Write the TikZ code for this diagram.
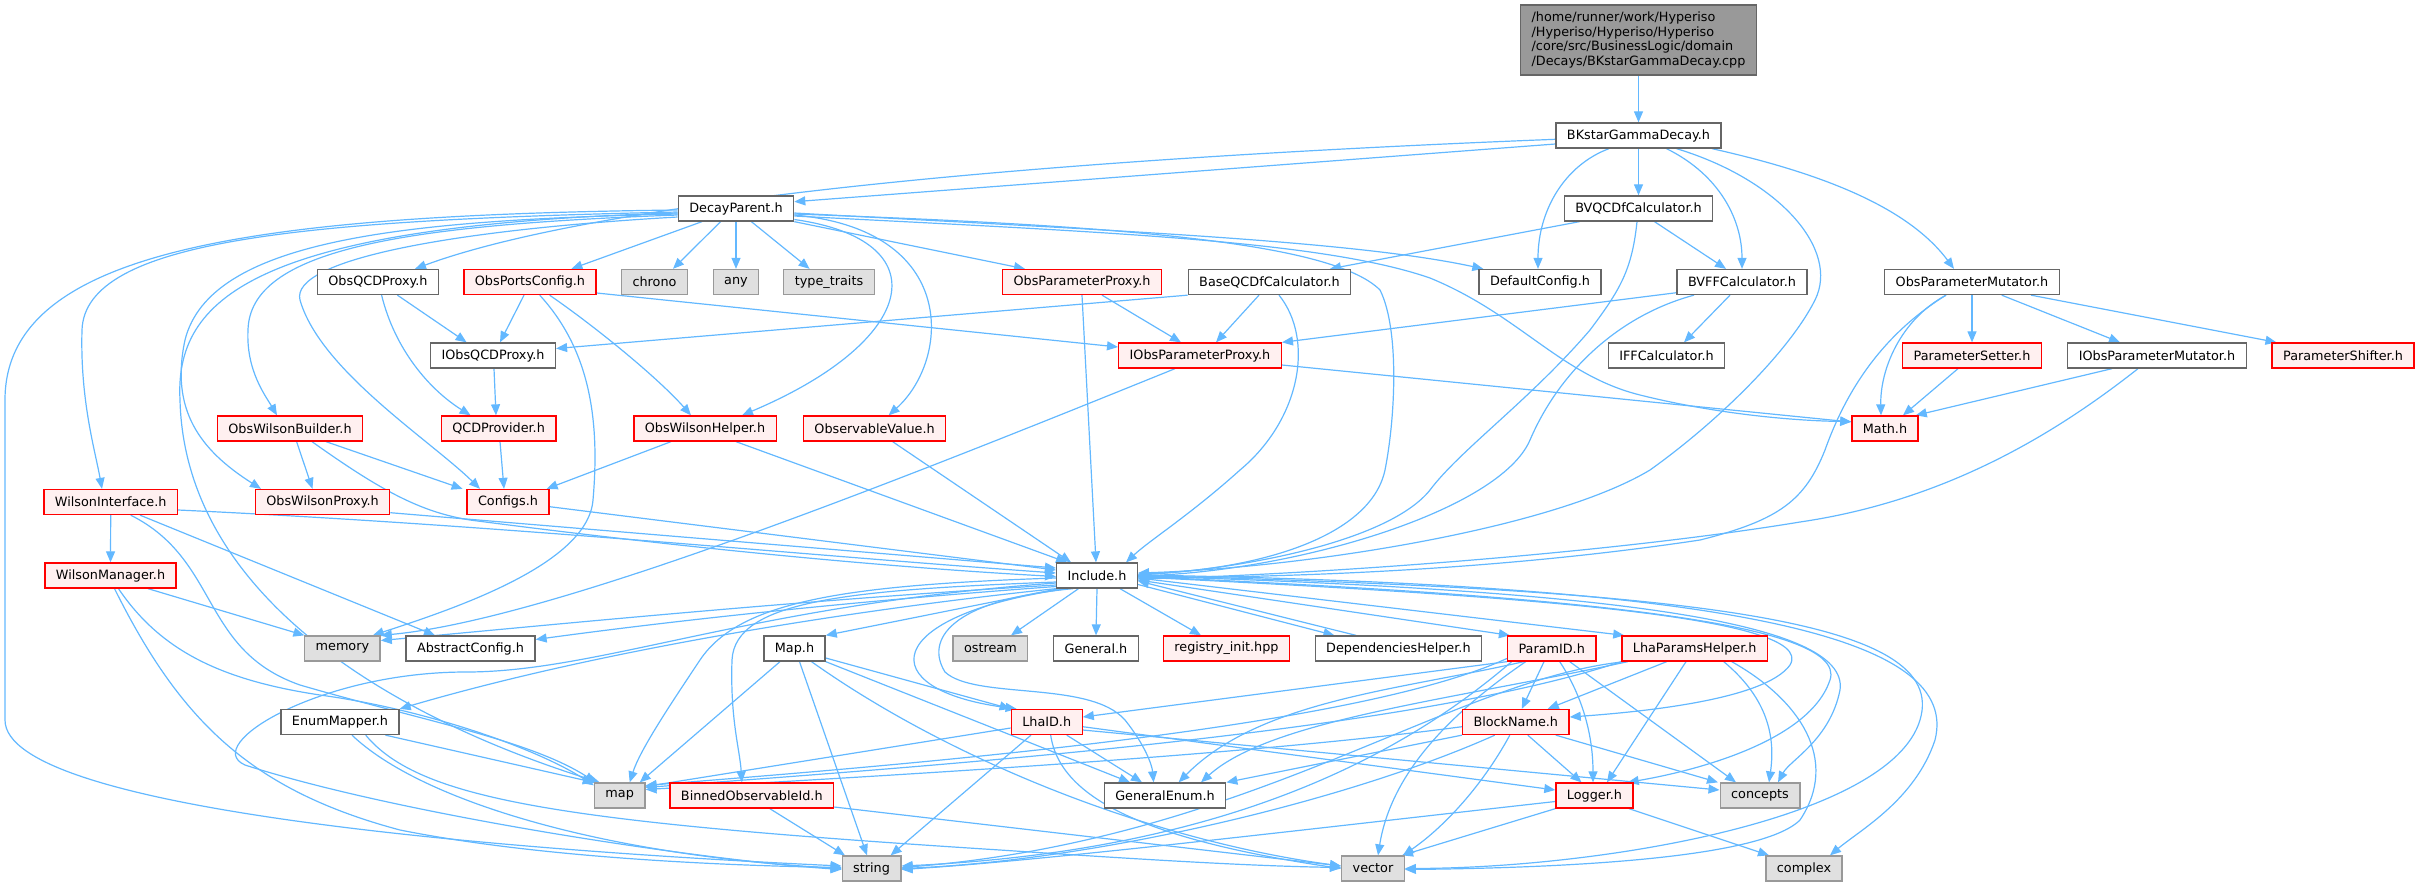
\documentclass[tikz,border=0pt]{standalone}
\usepackage{fontspec}
\setmainfont{DejaVu Sans}
\usetikzlibrary{arrows.meta}
\pgfdeclarelayer{bg}
\pgfsetlayers{bg,main}
\definecolor{edgec}{HTML}{63B8FF}
\definecolor{nbord}{HTML}{666666}
\definecolor{sbord}{HTML}{999999}
\definecolor{sfill}{HTML}{E0E0E0}
\definecolor{rfill}{HTML}{FFF0F0}
\definecolor{mfill}{HTML}{999999}
\begin{document}
\begin{tikzpicture}[x=1pt,y=-1pt,
  box/.style={draw, line width=1.3pt, minimum height=25pt, inner xsep=11pt, inner ysep=0pt,
    font=\fontsize{12.8}{14.8}\selectfont, anchor=center},
  nb/.style={box, draw=nbord, fill=white},
  rb/.style={box, draw=red, fill=rfill},
  sb/.style={box, draw=sbord, fill=sfill},
  mb/.style={box, draw=nbord, fill=mfill, align=left, minimum height=70pt},
  e/.style={draw=edgec, line width=1.2pt, -{Triangle[length=11pt,width=9pt]}}]
\useasboundingbox (0,0) rectangle (2418,887);
\node[mb] (main) at (1638.5,40) {/home/runner/work/Hyperiso\\/Hyperiso/Hyperiso/Hyperiso\\/core/src/BusinessLogic/domain\\/Decays/BKstarGammaDecay.cpp};
\node[nb] (BK) at (1638.5,135.5) {BKstarGammaDecay.h};
\node[nb] (DP) at (736,208.5) {DecayParent.h};
\node[nb] (BVQ) at (1638.5,208.5) {BVQCDfCalculator.h};
\node[nb] (OQP) at (378,282) {ObsQCDProxy.h};
\node[rb] (OPC) at (530,282) {ObsPortsConfig.h};
\node[sb] (chrono) at (654.5,282) {chrono};
\node[sb] (anyh) at (736,282) {any};
\node[sb] (tt) at (829,282) {type\_traits};
\node[rb] (OPP) at (1082,282) {ObsParameterProxy.h};
\node[nb] (BQ) at (1269.5,282) {BaseQCDfCalculator.h};
\node[nb] (DC) at (1540,282) {DefaultConfig.h};
\node[nb] (BVFF) at (1742,282) {BVFFCalculator.h};
\node[nb] (OPM) at (1972,282) {ObsParameterMutator.h};
\node[nb] (IOQP) at (493,355.5) {IObsQCDProxy.h};
\node[rb] (IOPP) at (1200,355.5) {IObsParameterProxy.h};
\node[nb] (IFF) at (1666.5,355.5) {IFFCalculator.h};
\node[rb] (PSet) at (1972,355.5) {ParameterSetter.h};
\node[nb] (IOPM) at (2157,355.5) {IObsParameterMutator.h};
\node[rb] (PShift) at (2343,355.5) {ParameterShifter.h};
\node[rb] (OWB) at (290,428.5) {ObsWilsonBuilder.h};
\node[rb] (QCDP) at (498.6,428.5) {QCDProvider.h};
\node[rb] (OWH) at (705,428.5) {ObsWilsonHelper.h};
\node[rb] (OV) at (874.6,428.5) {ObservableValue.h};
\node[rb] (Math) at (1885,428.5) {Math.h};
\node[rb] (WI) at (110.7,502) {WilsonInterface.h};
\node[rb] (OWP) at (322.5,502) {ObsWilsonProxy.h};
\node[rb] (Cfg) at (508,502) {Configs.h};
\node[rb] (WM) at (110.5,575.5) {WilsonManager.h};
\node[nb] (Inc) at (1097,575.5) {Include.h};
\node[sb] (mem) at (342.4,648.5) {memory};
\node[nb] (AC) at (470.5,648.5) {AbstractConfig.h};
\node[nb] (MapH) at (794.5,648.5) {Map.h};
\node[sb] (ostr) at (990.4,648.5) {ostream};
\node[nb] (Gen) at (1096,648.5) {General.h};
\node[rb] (reg) at (1226.5,648.5) {registry\_init.hpp};
\node[nb] (Dep) at (1398.4,648.5) {DependenciesHelper.h};
\node[rb] (PID) at (1551.7,648.5) {ParamID.h};
\node[rb] (LPH) at (1694.7,648.5) {LhaParamsHelper.h};
\node[nb] (EM) at (340,722) {EnumMapper.h};
\node[rb] (LID) at (1046.7,722) {LhaID.h};
\node[rb] (BN) at (1515.8,722) {BlockName.h};
\node[sb] (mapn) at (619.7,795.5) {map};
\node[rb] (BOI) at (751.8,795.5) {BinnedObservableId.h};
\node[nb] (GE) at (1165,795.5) {GeneralEnum.h};
\node[rb] (Log) at (1594.5,795.5) {Logger.h};
\node[sb] (conc) at (1760,795.5) {concepts};
\node[sb] (str) at (871.6,868.5) {string};
\node[sb] (vec) at (1373,868.5) {vector};
\node[sb] (cplx) at (1804,868.5) {complex};
\begin{pgfonlayer}{bg}
\draw[e] (main.south) -- (BK.north);
% BK
\draw[e] ([yshift=-8.5pt]BK.west) -- ([yshift=6.8pt]DP.east);
\draw[e] ([yshift=-3.8pt]BK.west) .. controls (900,165) and (560,215) .. ([xshift=37pt]OQP.north);
\draw[e] ([xshift=-29.5pt]BK.south) .. controls (1565,165) and (1538,210) .. ([xshift=-2pt]DC.north);
\draw[e] (BK.south) -- (BVQ.north);
\draw[e] ([xshift=28pt]BK.south) .. controls (1720,175) and (1742,220) .. (BVFF.north);
\draw[e] ([xshift=38pt]BK.south) .. controls (1780,180) and (1840,250) .. (1815,300) .. controls (1790,350) and (1720,420) .. (1650,470) .. controls (1550,530) and (1300,568) .. ([yshift=2.5pt]Inc.east);
\draw[e] ([xshift=73.5pt]BK.south) .. controls (1830,175) and (1910,210) .. ([xshift=-18pt]OPM.north);
% DP
\draw[e] ([xshift=-15.4pt]DP.south) -- ([xshift=18.5pt]chrono.north);
\draw[e] (DP.south) -- (anyh.north);
\draw[e] ([xshift=15.4pt]DP.south) -- ([xshift=-19.4pt]tt.north);
\draw[e] (DP.south east) -- ([xshift=-57pt]OPP.north);
\draw[e] ([yshift=-11pt]DP.east) .. controls (940,240) and (920,340) .. ([xshift=37pt]OWH.north);
\draw[e] ([yshift=-6.5pt]DP.east) .. controls (960,230) and (950,360) .. ([xshift=14pt]OV.north);
\draw[e] ([xshift=-34pt]DP.south) -- ([xshift=41.4pt]OPC.north);
\draw[e] ([yshift=-4.5pt]DP.east) .. controls (1100,230) and (1350,240) .. ([xshift=5pt]DC.north west);
\draw[e] ([yshift=-5.5pt]DP.east) .. controls (1100,225) and (1330,240) .. (1380,290) .. controls (1400,330) and (1395,420) .. (1385,470) .. controls (1370,540) and (1250,570) .. ([yshift=1.5pt]Inc.east);
\draw[e] ([yshift=-7.5pt]DP.east) .. controls (1100,232) and (1320,240) .. (1430,278) .. controls (1520,315) and (1560,375) .. (1640,395) .. controls (1720,415) and (1800,421) .. ([yshift=7pt]Math.west);
\draw[e] ([yshift=-1.5pt]DP.west) .. controls (250,215) and (5,250) .. (5,400) -- (5,720) .. controls (5,810) and (500,850) .. ([yshift=2.5pt]str.west);
\draw[e] ([yshift=-3.5pt]DP.west) .. controls (300,220) and (85,240) .. (82,330) .. controls (80,400) and (95,450) .. ([xshift=-8.7pt]WI.north);
\draw[e] ([yshift=-4.5pt]DP.west) .. controls (250,225) and (175,300) .. (180,400) .. controls (185,600) and (400,720) .. ([xshift=-20pt]mapn.north);
\draw[e] ([yshift=-5.5pt]DP.west) .. controls (400,220) and (210,240) .. (185,340) .. controls (170,410) and (200,450) .. ([xshift=-61.5pt]OWP.north);
\draw[e] ([yshift=-6.5pt]DP.west) .. controls (400,225) and (250,250) .. (248,330) .. controls (246,370) and (265,395) .. ([xshift=-13pt]OWB.north);
\draw[e] ([yshift=-8.5pt]DP.west) .. controls (450,230) and (290,260) .. (300,300) .. controls (320,370) and (430,440) .. ([xshift=-28pt]Cfg.north);
% BVQ
\draw[e] ([xshift=-59pt]BVQ.south) -- ([xshift=60.5pt]BQ.north);
\draw[e] ([xshift=-1.5pt]BVQ.south) .. controls (1632,270) and (1620,290) .. (1590,330) .. controls (1530,400) and (1460,450) .. (1430,490) .. controls (1390,540) and (1250,568) .. ([yshift=0.5pt]Inc.east);
\draw[e] ([xshift=16pt]BVQ.south) -- ([xshift=-16pt]BVFF.north);
% BQ
\draw[e] ([xshift=-10.5pt]BQ.south) -- ([xshift=16pt]IOPP.north);
\draw[e] ([xshift=9.5pt]BQ.south) .. controls (1315,340) and (1300,420) .. (1240,470) .. controls (1190,515) and (1150,540) .. ([xshift=29pt]Inc.north);
\draw[e] (BQ.south west) -- ([yshift=7pt]IOQP.east);
% BVFF
\draw[e] ([yshift=-10.7pt]BVFF.west) -- (IOPP.north east);
\draw[e] ([xshift=-48pt]BVFF.south) .. controls (1620,315) and (1560,370) .. (1530,440) .. controls (1500,510) and (1300,570) .. ([yshift=-0.5pt]Inc.east);
\draw[e] ([xshift=-12pt]BVFF.south) -- ([xshift=17.5pt]IFF.north);
% OPM
\draw[e] (OPM.south) -- (PSet.north);
\draw[e] ([xshift=29.7pt]OPM.south) -- ([xshift=-37pt]IOPM.north);
\draw[e] ([xshift=59pt]OPM.south) -- ([xshift=-66.5pt]PShift.north);
\draw[e] ([xshift=-26pt]OPM.south) .. controls (1900,320) and (1880,370) .. ([xshift=-4pt]Math.north);
\draw[e] ([xshift=-26pt]OPM.south) .. controls (1890,330) and (1850,380) .. (1825,450) .. controls (1805,500) and (1780,520) .. (1700,540) .. controls (1500,570) and (1300,577) .. ([yshift=-2.5pt]Inc.east);
\draw[e] ([xshift=-14pt]PSet.south) -- ([xshift=18pt]Math.north);
\draw[e] ([xshift=-45pt]IOPM.south) -- ([xshift=-3pt]Math.north east);
\draw[e] ([xshift=-19pt]IOPM.south) .. controls (2060,430) and (1950,500) .. (1800,522) .. controls (1600,555) and (1300,575) .. ([yshift=-3.5pt]Inc.east);
% IOPP
\draw[e] ([yshift=-9.5pt]IOPP.east) -- ([yshift=6.5pt]Math.west);
\draw[e] ([xshift=-25pt]IOPP.south) .. controls (900,480) and (550,620) .. (mem.north east);
% OPP
\draw[e] ([xshift=20pt]OPP.south) -- ([xshift=-19pt]IOPP.north);
\draw[e] (OPP.south) -- ([xshift=-1pt]Inc.north);
% OPC
\draw[e] ([xshift=-6pt]OPC.south) -- ([xshift=7pt]IOQP.north);
\draw[e] ([yshift=-11pt]OPC.east) -- ([yshift=8.5pt]IOPP.west);
\draw[e] ([xshift=19.6pt]OPC.south) .. controls (600,330) and (660,380) .. ([xshift=-14pt]OWH.north);
\draw[e] ([xshift=9.7pt]OPC.south) .. controls (590,350) and (600,420) .. (593,500) .. controls (588,565) and (450,610) .. ([xshift=-8pt]mem.north east);
% OQP
\draw[e] ([xshift=19.4pt]OQP.south) -- ([xshift=-26.4pt]IOQP.north);
\draw[e] ([xshift=3.6pt]OQP.south) .. controls (395,350) and (430,390) .. ([xshift=-28pt]QCDP.north);
\draw[e] ([xshift=1pt]IOQP.south) -- ([xshift=-2.6pt]QCDP.north);
\draw[e] ([xshift=1.4pt]QCDP.south) -- ([xshift=-4pt]Cfg.north);
% OWB
\draw[e] ([xshift=6.6pt]OWB.south) -- ([xshift=-10pt]OWP.north);
\draw[e] ([xshift=36pt]OWB.south) -- ([xshift=-45.4pt]Cfg.north);
\draw[e] ([xshift=22pt]OWB.south) .. controls (380,490) and (420,512) .. (470,520) .. controls (700,550) and (900,568) .. ([yshift=-1pt]Inc.west);
% OWH, OV, OWP, Cfg, WI, WM
\draw[e] ([xshift=-34pt]OWH.south) -- ([xshift=-3pt]Cfg.north east);
\draw[e] ([xshift=31pt]OWH.south) -- ([xshift=-30pt]Inc.north);
\draw[e] ([xshift=18pt]OV.south) -- ([xshift=-26pt]Inc.north);
\draw[e] ([yshift=-10.7pt]OWP.east) -- ([yshift=7.5pt]Inc.west);
\draw[e] ([yshift=-4.7pt]Cfg.east) -- ([yshift=5.5pt]Inc.west);
\draw[e] ([yshift=-8pt]WI.east) .. controls (500,525) and (800,555) .. ([yshift=2.5pt]Inc.west);
\draw[e] (WI.south) -- (WM.north);
\draw[e] ([xshift=29.3pt]WI.south) -- ([xshift=-35.5pt]AC.north);
\draw[e] ([xshift=20pt]WI.south) .. controls (220,560) and (200,650) .. (300,685) .. controls (420,720) and (530,740) .. ([xshift=-24pt]mapn.north);
\draw[e] ([xshift=37.5pt]WM.south) -- ([xshift=-38pt]mem.north);
\draw[e] ([xshift=8pt]WM.south) .. controls (160,650) and (220,680) .. (320,695) .. controls (430,710) and (540,750) .. ([yshift=-3pt]mapn.north west);
\draw[e] ([xshift=4pt]WM.south) .. controls (180,720) and (250,790) .. (400,830) .. controls (550,860) and (750,866) .. ([yshift=1pt]str.west);
% Include outgoing
\draw[e] ([yshift=-9.5pt]Inc.west) .. controls (800,600) and (550,625) .. ([yshift=8pt]mem.east);
\draw[e] ([yshift=-11pt]Inc.west) .. controls (800,605) and (620,628) .. ([yshift=9pt]AC.east);
\draw[e] (Inc.south west) .. controls (850,610) and (600,650) .. (EM.north east);
\draw[e] ([xshift=3pt]Inc.south west) -- (MapH.north east);
\draw[e] ([yshift=-2.5pt]Inc.west) .. controls (850,585) and (740,600) .. (700,660) .. controls (670,705) and (640,750) .. ([xshift=10pt]mapn.north);
\draw[e] ([yshift=-6.5pt]Inc.west) .. controls (850,590) and (735,600) .. (732,660) .. controls (730,720) and (740,750) .. ([xshift=-10pt]BOI.north);
\draw[e] ([xshift=-30pt]Inc.south) .. controls (880,615) and (870,690) .. ([xshift=6pt]LID.north west);
\draw[e] ([xshift=-24pt]Inc.south) .. controls (950,600) and (925,640) .. (945,672) .. controls (975,700) and (1090,680) .. (1125,720) .. controls (1145,745) and (1152,765) .. ([xshift=-11.4pt]GE.north);
\draw[e] ([xshift=-18.5pt]Inc.south) -- ([xshift=20.6pt]ostr.north);
\draw[e] (Inc.south) -- (Gen.north);
\draw[e] ([xshift=23pt]Inc.south) -- ([xshift=-25.5pt]reg.north);
\draw[e] ([yshift=-9pt]Inc.east) -- ([xshift=-64pt]Dep.north);
\draw[e] ([xshift=-42.4pt]Dep.north) -- ([yshift=-5.5pt]Inc.east);
\draw[e] ([yshift=-4.5pt]Inc.east) -- ([xshift=3pt]PID.north west);
\draw[e] ([yshift=-2.5pt]Inc.east) -- ([xshift=3pt]LPH.north west);
\draw[e] ([yshift=-1.5pt]Inc.east) .. controls (1500,595) and (1820,615) .. (1790,665) .. controls (1765,700) and (1640,712) .. ([yshift=5pt]BN.east);
\draw[e] ([yshift=-1pt]Inc.east) .. controls (1550,595) and (1850,620) .. (1830,680) .. controls (1810,740) and (1700,770) .. ([xshift=-6pt]Log.north east);
\draw[e] ([yshift=-0.5pt]Inc.east) .. controls (1600,590) and (1850,620) .. (1840,690) .. controls (1830,740) and (1790,760) .. ([xshift=18pt]conc.north);
\draw[e] (Inc.east) .. controls (1700,590) and (1950,620) .. (1920,720) .. controls (1890,820) and (1600,868) .. (vec.east);
\draw[e] ([yshift=0.5pt]Inc.east) .. controls (1750,585) and (1960,640) .. (1935,740) .. controls (1915,800) and (1860,830) .. ([xshift=26pt]cplx.north);
\draw[e] ([yshift=-7.5pt]Inc.west) .. controls (750,605) and (600,672) .. (466,672) .. controls (320,672) and (200,745) .. (245,765) .. controls (400,815) and (700,860) .. ([yshift=-1pt]str.west);
% Map.h
\draw[e] ([xshift=-14.5pt]MapH.south) -- ([xshift=20pt]mapn.north);
\draw[e] ([xshift=5pt]MapH.south) -- ([xshift=-4.6pt]str.north);
\draw[e] ([xshift=17pt]MapH.south) .. controls (950,760) and (1150,840) .. ([yshift=2.5pt]vec.west);
\draw[e] ([yshift=-9.5pt]MapH.east) -- (LID.north west);
\draw[e] (MapH.south east) -- ([xshift=-35pt]GE.north);
% EnumMapper
\draw[e] ([xshift=45.5pt]EM.south) -- (mapn.north west);
\draw[e] ([xshift=12pt]EM.south) .. controls (420,800) and (600,855) .. (str.west);
\draw[e] ([xshift=25.7pt]EM.south) .. controls (420,800) and (560,822) .. (1000,850) .. controls (1150,860) and (1250,866) .. ([yshift=1pt]vec.west);
% LhaID
\draw[e] ([yshift=-6pt]LID.west) -- ([yshift=9pt]mapn.east);
\draw[e] ([xshift=-15.7pt]LID.south) -- ([xshift=19pt]str.north);
\draw[e] ([xshift=20pt]LID.south) -- ([xshift=-23pt]GE.north);
\draw[e] ([xshift=4pt]LID.south) .. controls (1060,800) and (1150,840) .. (vec.west);
\draw[e] ([yshift=-4.7pt]LID.east) -- ([yshift=5.5pt]Log.west);
\draw[e] ([yshift=-8pt]LID.east) -- ([yshift=5.5pt]conc.west);
% BinnedObservableId
\draw[e] ([xshift=18pt]BOI.south) -- ([xshift=-26.6pt]str.north);
\draw[e] ([yshift=-11.5pt]BOI.east) -- ([yshift=2.5pt]vec.west);
% ParamID
\draw[e] ([xshift=-7.7pt]PID.south) -- ([xshift=6pt]BN.north);
\draw[e] ([xshift=8pt]PID.south) .. controls (1585,700) and (1593,740) .. ([xshift=-1.5pt]Log.north);
\draw[e] ([xshift=18pt]PID.south) -- ([xshift=-24pt]conc.north);
\draw[e] (PID.south west) -- ([yshift=5pt]LID.east);
\draw[e] ([yshift=-10pt]PID.west) .. controls (1350,730) and (900,765) .. ([yshift=10pt]mapn.east);
\draw[e] ([xshift=-28pt]PID.south) .. controls (1400,690) and (1260,700) .. ([xshift=13.6pt]GE.north);
\draw[e] ([xshift=-26pt]PID.south) .. controls (1440,720) and (1390,780) .. ([xshift=5pt]vec.north);
\draw[e] ([xshift=-40pt]PID.south) .. controls (1420,740) and (1250,850) .. ([yshift=2.5pt]str.east);
% LhaParamsHelper
\draw[e] ([xshift=-28pt]LPH.south) -- ([xshift=32pt]BN.north);
\draw[e] ([xshift=-8.7pt]LPH.south) -- ([xshift=12.5pt]Log.north);
\draw[e] ([xshift=29pt]LPH.south) .. controls (1770,700) and (1775,740) .. ([xshift=9pt]conc.north);
\draw[e] ([xshift=37pt]LPH.south) .. controls (1800,700) and (1840,760) .. (1800,820) .. controls (1760,860) and (1550,868) .. ([yshift=-1pt]vec.east);
\draw[e] (LPH.south west) .. controls (1400,735) and (900,768) .. ([yshift=8pt]mapn.east);
\draw[e] ([xshift=-70pt]LPH.south) .. controls (1450,680) and (1250,840) .. ([yshift=1pt]str.east);
\draw[e] ([xshift=-67pt]LPH.south) .. controls (1450,700) and (1270,720) .. ([xshift=36pt]GE.north);
% BlockName
\draw[e] ([xshift=12pt]BN.south) -- ([xshift=-13pt]Log.north);
\draw[e] ([xshift=40pt]BN.south) -- ([xshift=-42pt]conc.north);
\draw[e] ([xshift=-6pt]BN.south) .. controls (1480,790) and (1440,830) .. ([xshift=-2pt]vec.north east);
\draw[e] ([xshift=-21pt]BN.south) .. controls (1350,800) and (1100,860) .. (str.east);
\draw[e] ([yshift=-4.7pt]BN.west) .. controls (1250,755) and (900,775) .. ([yshift=6pt]mapn.east);
\draw[e] (BN.south west) -- (GE.north east);
% Logger
\draw[e] ([yshift=-6pt]Log.west) .. controls (1300,830) and (1050,860) .. ([yshift=-1pt]str.east);
\draw[e] (Log.south west) -- ([xshift=-3pt]vec.north east);
\draw[e] ([xshift=34.5pt]Log.south) -- ([xshift=-35pt]cplx.north);
\end{pgfonlayer}
\end{tikzpicture}
\end{document}
